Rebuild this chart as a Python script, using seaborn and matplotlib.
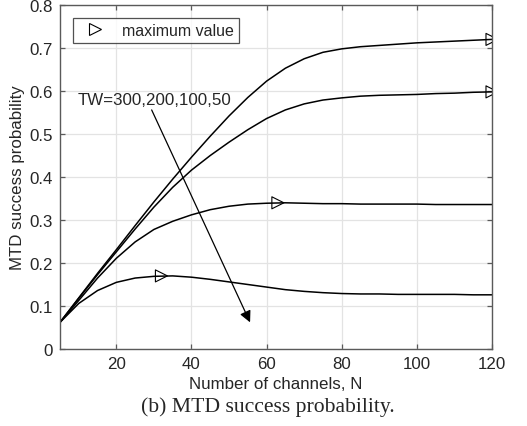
import numpy as np
import pandas as pd
import matplotlib
matplotlib.use('Agg')
import matplotlib.pyplot as plt
import seaborn as sns
from matplotlib.lines import Line2D

# data
channels = [5, 10, 15, 20, 25, 30, 35, 40, 45, 50, 55, 60,
            65, 70, 75, 80, 85, 90, 95, 100, 105, 110, 115, 120]
tw_300 = [0.062, 0.119, 0.176, 0.231, 0.287, 0.342, 0.395, 0.446, 0.495, 0.542, 0.585, 0.623,
          0.653, 0.675, 0.690, 0.698, 0.703, 0.706, 0.709, 0.712, 0.714, 0.716, 0.718, 0.720]
tw_200 = [0.062, 0.118, 0.173, 0.226, 0.279, 0.330, 0.376, 0.416, 0.450, 0.481, 0.510, 0.536,
          0.556, 0.570, 0.579, 0.584, 0.588, 0.590, 0.591, 0.592, 0.594, 0.595, 0.597, 0.598]
tw_100 = [0.062, 0.113, 0.165, 0.211, 0.249, 0.278, 0.297, 0.312, 0.324, 0.332, 0.337, 0.339,
          0.340, 0.339, 0.338, 0.338, 0.337, 0.337, 0.337, 0.337, 0.336, 0.336, 0.336, 0.336]
tw_50 = [0.062, 0.106, 0.136, 0.155, 0.165, 0.169, 0.170, 0.167, 0.162, 0.156, 0.150, 0.144,
         0.138, 0.134, 0.131, 0.129, 0.128, 0.128, 0.127, 0.127, 0.127, 0.127, 0.126, 0.126]
max_x = [120, 120, 63, 32]
max_y = [0.720, 0.598, 0.340, 0.170]

curves = {'300': tw_300, '200': tw_200, '100': tw_100, '50': tw_50}
df = pd.concat([pd.DataFrame({'N': channels, 'p': v, 'TW': k}) for k, v in curves.items()])

sns.set_style('whitegrid')
plt.rcParams['font.family'] = ['Liberation Sans', 'DejaVu Sans']

fig = plt.figure(figsize=(5.27, 4.27), dpi=100)
ax = fig.add_axes([60 / 527, 1 - 350 / 427, 432 / 527, 344 / 427])

sns.lineplot(data=df, x='N', y='p', hue='TW', palette=['black'] * 4,
             legend=False, linewidth=1.1, ax=ax)
sns.scatterplot(x=max_x, y=max_y, marker='>', s=75, facecolor='none',
                edgecolor='black', linewidth=0.8, ax=ax, zorder=5)

ax.set_xlim(5, 120)
ax.set_ylim(0, 0.8)
ax.set_xticks([20, 40, 60, 80, 100, 120])
ax.set_yticks(np.arange(0, 0.81, 0.1))
ax.set_yticklabels(['0', '0.1', '0.2', '0.3', '0.4', '0.5', '0.6', '0.7', '0.8'])
ax.grid(True, color='#e3e3e3', linewidth=0.9)
for s in ax.spines.values():
    s.set_color('#5a5a5a')
    s.set_linewidth(1.0)
ax.tick_params(direction='in', length=3.5, width=0.9, color='#5a5a5a',
               top=True, right=True, bottom=True, left=True,
               labelsize=12.2, labelcolor='#262626', pad=5)

ax.set_xlabel('Number of channels, N', fontsize=12.2, color='#262626', labelpad=4)
ax.set_ylabel('MTD success probability', fontsize=12.2, color='#262626', labelpad=3)

ax.text(9.6, 0.581, 'TW=300,200,100,50', fontsize=12.2, va='center', ha='left')
ax.annotate('', xy=(55.6, 0.062), xytext=(29.4, 0.556),
            arrowprops=dict(arrowstyle='-|>', color='black', lw=0.9,
                            mutation_scale=17, shrinkA=0, shrinkB=0))

handle = Line2D([0], [0], marker='>', linestyle='none', markerfacecolor='none',
                markeredgecolor='black', markersize=8, markeredgewidth=0.8)
leg = ax.legend([handle], ['maximum value'], loc='upper left',
                bbox_to_anchor=(0.029, 0.962), fontsize=11.5, frameon=True,
                fancybox=False, borderpad=0.3, handletextpad=0.6,
                borderaxespad=0, handlelength=2.2)
leg.get_frame().set_edgecolor('#262626')
leg.get_frame().set_linewidth(0.9)

fig.text(0.508, 1 - 407 / 427, '(b) MTD success probability.', ha='center',
         va='center', fontsize=15.6, family=['Liberation Serif', 'DejaVu Serif'])

fig.savefig('out.png', dpi=100)
